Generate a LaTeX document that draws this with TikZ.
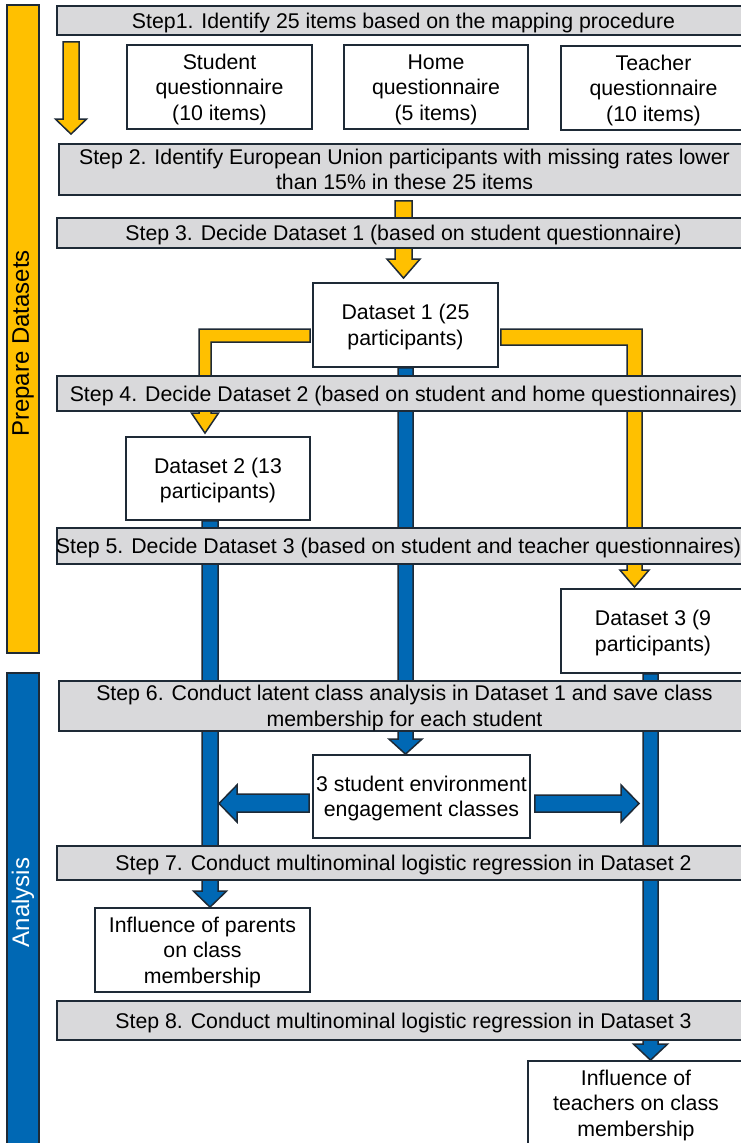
\documentclass[tikz,border=0pt]{standalone}
\usepackage{fontspec}
\setmainfont{Liberation Sans}
\usetikzlibrary{calc}
\definecolor{gold}{HTML}{FFC000}
\definecolor{vblue}{HTML}{0068B4}
\definecolor{stepgray}{HTML}{D9D9DB}
\definecolor{edge}{HTML}{1E2A36}
\pgfdeclarelayer{back}
\pgfdeclarelayer{arrows}
\pgfsetlayers{back,arrows,main}
% box from (x1,y1) to (x2,y2) in pixel units, y downwards; text struts keep vertical centring even
\newcommand\bx[7]{\node[#6, minimum width={(#4-#2)*1pt}, minimum height={(#5-#3)*1pt}] (#1) at ({(#2+#4)/2},{(#3+#5)/2}) {\rule{0pt}{19.6pt}#7\rule[-4.6pt]{0pt}{0pt}};}
% vertical block arrow: style, x, from, to, shaft half, head half, head length, start gap, tip gap
\newcommand\vblk[9]{\path[#1] let \p1=(#3), \p2=(#4) in
  ({#2pt-#5pt},{\y1-#8pt}) -- ({#2pt-#5pt},{\y2+#9pt+#7pt}) -- ({#2pt-#6pt},{\y2+#9pt+#7pt})
  -- (#2pt,{\y2+#9pt}) -- ({#2pt+#6pt},{\y2+#9pt+#7pt}) -- ({#2pt+#5pt},{\y2+#9pt+#7pt})
  -- ({#2pt+#5pt},{\y1-#8pt}) -- cycle;}
\begin{document}
\begin{tikzpicture}[x=1pt,y=-1pt,
  txt/.style={font=\fontsize{21.3}{25.5}\selectfont, align=center, inner sep=0pt, line width=1.8pt, draw=edge},
  stepbar/.style={txt, fill=stepgray},
  infobox/.style={txt, fill=white},
  phasebar/.style={draw=edge, line width=1.8pt, inner sep=0pt},
  phaselabel/.style={rotate=90, font=\fontsize{24}{28}\selectfont, inner sep=0pt},
  yarr/.style={fill=gold, draw=edge, line width=1.5pt, line join=miter},
  barr/.style={fill=vblue, draw=edge, line width=1.5pt, line join=miter}]
\useasboundingbox (0,0) rectangle (741,1143);
\begin{pgfonlayer}{back}
  \fill[white] (0,0) rectangle (741,1143);
\end{pgfonlayer}

% phase bars
\node[phasebar, fill=gold, minimum width=32pt, minimum height=648pt] (prep) at (23,329) {};
\node[phaselabel] (prepL) at (23,343.5) {Prepare Datasets};
\node[phasebar, fill=vblue, minimum width=32pt, minimum height=497pt] (ana) at (23,921.5) {};
\node[phaselabel, text=white] (anaL) at (23,902.5) {Analysis};

% steps and boxes
\bx{s1}{57}{6}{750}{35}{stepbar}{Step1. Identify 25 items based on the mapping procedure}
\bx{sq}{127}{45}{312}{129}{infobox}{Student\\questionnaire\\(10 items)}
\bx{hq}{344}{45}{528}{129}{infobox}{Home\\questionnaire\\(5 items)}
\bx{tq}{561}{46}{746}{130}{infobox}{Teacher\\questionnaire\\(10 items)}
\bx{s2}{59}{144}{750}{195}{stepbar}{Step 2. Identify European Union participants with missing rates lower\\than 15\% in these 25 items}
\bx{s3}{57}{218}{750}{248}{stepbar}{Step 3. Decide Dataset 1 (based on student questionnaire)}
\bx{d1}{313}{283}{498}{367}{infobox}{Dataset 1 (25\\participants)}
\bx{s4}{57}{376}{750}{411}{stepbar}{Step 4. Decide Dataset 2 (based on student and home questionnaires)}
\bx{d2}{126}{437}{310}{520}{infobox}{Dataset 2 (13\\participants)}
\bx{s5}{57}{528}{750}{564}{stepbar}{\hspace*{-10pt}Step 5. Decide Dataset 3 (based on student and teacher questionnaires)}
\bx{d3}{561}{589}{745}{673}{infobox}{Dataset 3 (9\\participants)}
\bx{s6}{59}{682}{750}{730}{stepbar}{Step 6. Conduct latent class analysis in Dataset 1 and save class\\membership for each student}
\bx{cls}{313}{755}{530}{838}{infobox}{3 student environment\\engagement classes}
\bx{s7}{57}{846}{750}{880}{stepbar}{Step 7. Conduct multinominal logistic regression in Dataset 2}
\bx{inf1}{95}{908}{310}{992}{infobox}{Influence of parents\\on class\\membership}
\bx{s8}{57}{1001}{750}{1040}{stepbar}{Step 8. Conduct multinominal logistic regression in Dataset 3}
\bx{inf2}{528}{1061}{744}{1145}{infobox}{Influence of\\teachers on class\\membership}

\coordinate (t4) at (219,803.5);
\coordinate (t5) at (639,803.5);

\begin{pgfonlayer}{arrows}
  % yellow arrows
  \vblk{yarr}{71}{s1.south}{s2.north}{8}{15.5}{15}{6}{9}
  \vblk{yarr}{403.5}{s2.south}{d1.north}{8.5}{16.5}{19}{5}{4}
  \path[yarr] let \p1=(d1.west), \p2=(d2.north) in
    ({\x1-2pt},-329pt) -- (199pt,-329pt) -- (199pt,{\y2+23pt}) -- (191.5pt,{\y2+23pt})
    -- (205pt,{\y2+3pt}) -- (218.5pt,{\y2+23pt}) -- (211pt,{\y2+23pt}) -- (211pt,-342pt)
    -- ({\x1-2pt},-342pt) -- cycle;
  \path[yarr] let \p1=(d1.east), \p2=(d3.north) in
    ({\x1+2pt},-329pt) -- (642pt,-329pt) -- (642pt,{\y2+18pt}) -- (649pt,{\y2+18pt})
    -- (634.5pt,{\y2+1pt}) -- (620pt,{\y2+18pt}) -- (627pt,{\y2+18pt}) -- (627pt,-345pt)
    -- ({\x1+2pt},-345pt) -- cycle;
  % blue arrows
  \vblk{barr}{405.5}{d1.south}{cls.north}{7.5}{16.5}{15}{0}{0}
  \vblk{barr}{210}{d2.south}{inf1.north}{8}{16.5}{16}{0}{0}
  \vblk{barr}{650.5}{d3.south}{inf2.north}{7.5}{17}{16}{0}{0}
  \path[barr] let \p1=(cls.west), \p2=(t4) in
    ({\x1-3pt},-794pt) -- ({\x2+18pt},-794pt) -- ({\x2+18pt},-785pt) -- (\x2,\y2)
    -- ({\x2+18pt},-822pt) -- ({\x2+18pt},-812pt) -- ({\x1-3pt},-812pt) -- cycle;
  \path[barr] let \p1=(cls.east), \p2=(t5) in
    ({\x1+4pt},-795pt) -- ({\x2-18pt},-795pt) -- ({\x2-18pt},-785pt) -- (\x2,\y2)
    -- ({\x2-18pt},-822pt) -- ({\x2-18pt},-812pt) -- ({\x1+4pt},-812pt) -- cycle;
\end{pgfonlayer}
\end{tikzpicture}
\end{document}
